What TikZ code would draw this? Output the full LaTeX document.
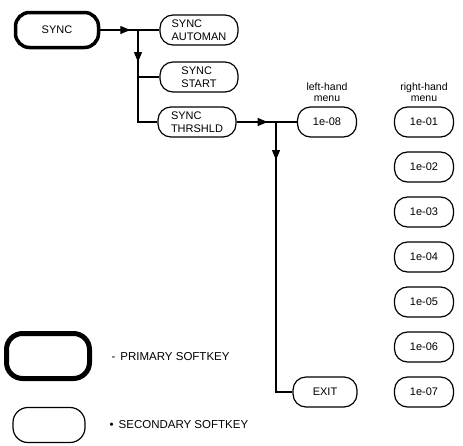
\documentclass[tikz,border=0pt]{standalone}
\usepackage{fontspec}
\setmainfont{Liberation Sans}
\usetikzlibrary{positioning}
\usetikzlibrary{arrows.meta}
\usetikzlibrary{decorations.markings}
\tikzstyle{primary} = [rectangle, rounded corners=14pt, minimum width=83pt, minimum height=35pt, text centered, draw=black, line width=3.5pt]
\tikzstyle{softkey} = [rectangle, rounded corners=13pt, minimum width=78pt, minimum height=30pt, align=left, draw=black, line width=1.2pt]
\tikzstyle{valkey} = [softkey, minimum width=59pt, align=center]
\tikzstyle{menulabel} = [align=center, font=\fontsize{10.5}{11.5}\selectfont]
\tikzstyle{line} = [line width=1.2pt]
\tikzset{midarrow/.style={postaction={decorate}, decoration={markings, mark=at position #1 with {\arrow{Triangle[length=10pt,width=8pt]}}}}}

\begin{document}
\begin{tikzpicture}[x=1pt, y=-1pt, node distance=45pt, font=\fontsize{11}{13.5}\selectfont]
        \useasboundingbox (0,0) rectangle (463,445);

        % softkey tree
        \node (sync) [primary] at (57,30) {SYNC};
        \node (automan) [softkey] at (199,30) {SYNC\\AUTOMAN};
        \node (start) [softkey] at (199,77) {SYNC\\START};
        \node (thrshld) [softkey] at (197,122) {SYNC\\THRSHLD};
        \node (lmenu) [valkey] at (327,122) {1e-08};
        \node (exit) [valkey, minimum width=64pt] at (325,392) {EXIT};
        \node (lhand) [menulabel, above=1pt of lmenu] {left-hand\\menu};

        % right-hand menu
        \node (r1) [valkey] at (424,122) {1e-01};
        \node (r2) [valkey, below of=r1] {1e-02};
        \node (r3) [valkey, below of=r2] {1e-03};
        \node (r4) [valkey, below of=r3] {1e-04};
        \node (r5) [valkey, below of=r4] {1e-05};
        \node (r6) [valkey, below of=r5] {1e-06};
        \node (r7) [valkey, below of=r6] {1e-07};
        \node (rhand) [menulabel, above=1pt of r1] {right-hand\\menu};

        \coordinate (j1) at (138,30);
        \coordinate (j2) at (276,122);

        \draw [line, midarrow=30pt] (sync) -- (automan);
        \draw [line, midarrow=32pt] (j1) |- (thrshld);
        \draw [line] (j1 |- start) -- (start);
        \draw [line, midarrow=31pt] (thrshld) -- (lmenu);
        \draw [line, midarrow=38pt] (j2) |- (exit);

        % legend
        \node (keyprim) [primary, minimum height=45pt, rounded corners=16pt, line width=5pt] at (48,356) {};
        \node (keysec) [softkey, minimum width=72pt, minimum height=35pt, rounded corners=15pt] at (49,425) {};
        \node (txtprim) [anchor=west, font=\fontsize{11.5}{13}\selectfont] at (108,357) {-\, PRIMARY SOFTKEY};
        \node (txtsec) [anchor=west, font=\fontsize{11.5}{13}\selectfont] at (106,425) {•\, SECONDARY SOFTKEY};
    \end{tikzpicture}
\end{document}
